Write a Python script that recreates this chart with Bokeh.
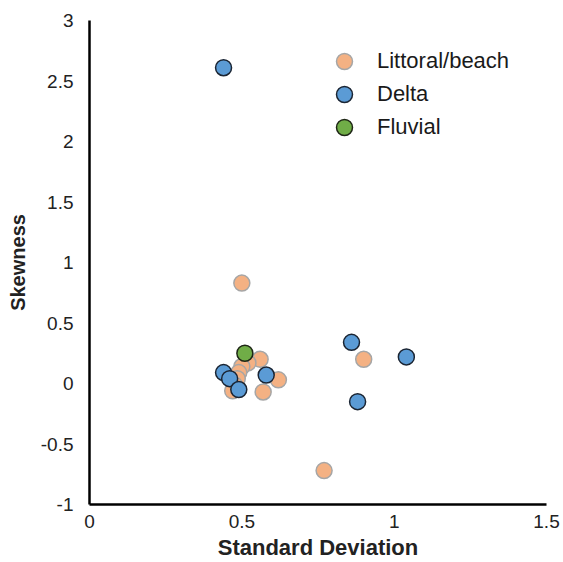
from bokeh.plotting import figure
from bokeh.models import Range1d, FixedTicker, NumeralTickFormatter, Legend, LegendItem
from bokeh.embed import file_html
from bokeh.resources import INLINE

# ---- data ----
littoral_sd = [0.50, 0.56, 0.62, 0.57, 0.90, 0.77, 0.52, 0.50, 0.49, 0.485, 0.475, 0.47]
littoral_sk = [0.83, 0.20, 0.03, -0.07, 0.20, -0.72, 0.17, 0.14, 0.09, 0.04, -0.01, -0.06]

delta_sd = [0.44, 0.86, 1.04, 0.88, 0.58, 0.44, 0.46, 0.49]
delta_sk = [2.61, 0.34, 0.22, -0.15, 0.07, 0.09, 0.04, -0.05]

fluvial_sd = [0.51]
fluvial_sk = [0.25]

x_ticks = [0, 0.5, 1, 1.5]
y_ticks = [-1, -0.5, 0, 0.5, 1, 1.5, 2, 2.5, 3]

series_labels = ["Littoral/beach", "Delta", "Fluvial"]

FONT = "Liberation Sans"

p = figure(width=563, height=562, output_backend="svg", toolbar_location=None,
           x_range=Range1d(0, 1.5), y_range=Range1d(-1, 3),
           min_border_left=89, min_border_right=17, min_border_top=20, min_border_bottom=57)
p.outline_line_color = None
p.grid.visible = False

r1 = p.scatter(littoral_sd, littoral_sk, size=16, fill_color="#F4B183",
               line_color="#A6A6A6", line_width=1.5)
r2 = p.scatter(delta_sd, delta_sk, size=16, fill_color="#5B9BD5",
               line_color="#1B2533", line_width=1.5)
r3 = p.scatter(fluvial_sd, fluvial_sk, size=16, fill_color="#70AD47",
               line_color="#1E2616", line_width=1.5)

for ax, ticks in ((p.xaxis[0], x_ticks), (p.yaxis[0], y_ticks)):
    ax.ticker = FixedTicker(ticks=ticks)
    ax.formatter = NumeralTickFormatter(format="0.[0]")
    ax.axis_line_color = "black"
    ax.axis_line_width = 2.5
    ax.major_tick_line_color = None
    ax.minor_tick_line_color = None
    ax.major_tick_out = 0
    ax.major_tick_in = 0
    ax.major_label_text_font = FONT
    ax.major_label_text_font_size = "19px"
    ax.major_label_text_color = "#222222"
    ax.axis_label_text_font = FONT
    ax.axis_label_text_font_style = "bold"
    ax.axis_label_text_color = "#222222"

p.xaxis.axis_label = "Standard Deviation"
p.yaxis.axis_label = "Skewness"
p.xaxis.axis_label_text_font_size = "22px"
p.yaxis.axis_label_text_font_size = "20px"
p.xaxis.major_label_standoff = 10
p.yaxis.major_label_standoff = 16
p.xaxis.axis_label_standoff = 4
p.yaxis.axis_label_standoff = 9

# one single-item legend per row, so the rows can sit closer than the glyph box
for lab, rend, ypos in zip(series_labels, [r1, r2, r3], [423, 390, 357]):
    lg = Legend(items=[LegendItem(label=lab, renderers=[rend])], location=(235, ypos))
    lg.glyph_width = 40
    lg.glyph_height = 40
    lg.padding = 0
    lg.margin = 0
    lg.label_standoff = 13
    lg.border_line_color = None
    lg.background_fill_alpha = 0
    lg.label_text_font = FONT
    lg.label_text_font_size = "22px"
    lg.label_text_color = "#1a1a1a"
    p.add_layout(lg)

open("out.html", "w").write(file_html(p, INLINE))
